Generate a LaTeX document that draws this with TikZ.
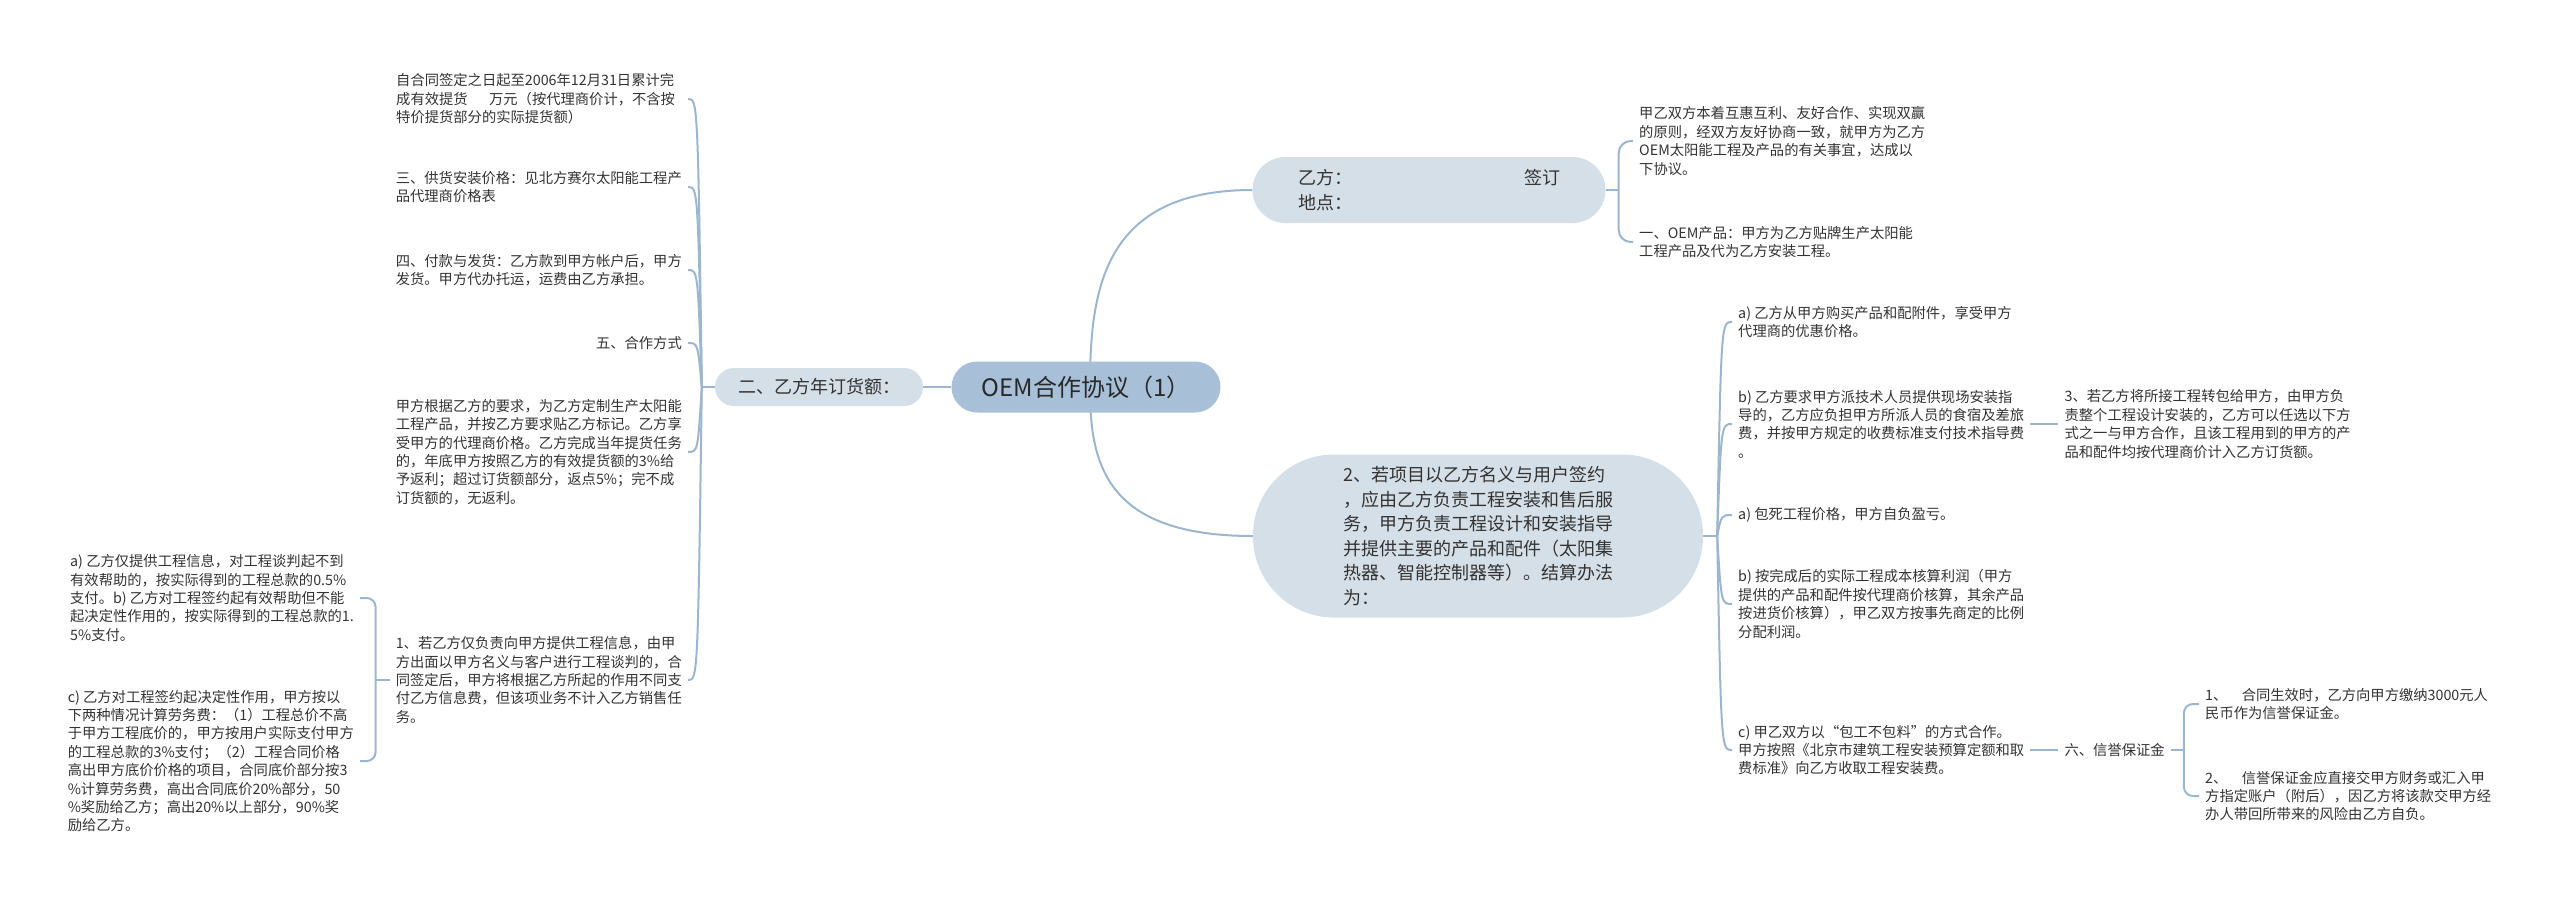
\documentclass[tikz,border=0pt]{standalone}
\usepackage{fontspec}
\setmainfont{Noto Sans CJK SC}
\usetikzlibrary{positioning}
\definecolor{rootfill}{HTML}{A7C0D8}
\definecolor{topicfill}{HTML}{D4DFE8}
\definecolor{linkblue}{HTML}{9DB6CF}
\definecolor{ink}{HTML}{333333}
\pgfdeclarelayer{background}
\pgfsetlayers{background,main}

\begin{document}
\begin{tikzpicture}[x=1pt, y=-1pt,
    root/.style={fill=rootfill, text=ink!80!black, rounded corners=25.5pt, minimum width=269pt, minimum height=51pt, font=\fontsize{24}{30}\selectfont},
    topic/.style={fill=topicfill, text=ink, align=left, font=\fontsize{18}{24.5}\selectfont},
    leaf/.style={text=ink, align=left, inner sep=6pt, font=\fontsize{14.3}{18.4}\selectfont},
    link/.style={draw=linkblue, line width=2pt}]
    \useasboundingbox (0,0) rectangle (2560,903);

    % centre and main topics
    \node (root) [root] at (1086,387) {OEM合作协议（1）};
    \node (order) [topic, rounded corners=19pt, minimum width=208pt, minimum height=38pt] at (819,387) {二、乙方年订货额：};
    \node (partyb) [topic, rounded corners=33pt, minimum width=353pt, minimum height=66pt, text width=262pt] at (1429,190) {乙方：\hfill 签订\\地点：};
    \node (settle) [topic, rounded corners=81pt, minimum width=450pt, minimum height=163pt] at (1478,536) {2、若项目以乙方名义与用户签约\\，应由乙方负责工程安装和售后服\\务，甲方负责工程设计和安装指导\\并提供主要的产品和配件（太阳集\\热器、智能控制器等）。结算办法\\为：};

    % left side
    \node (delivery) [leaf, anchor=west] at (390,99) {自合同签定之日起至2006年12月31日累计完\\成有效提货\hspace{1.5em}万元（按代理商价计，不含按\\特价提货部分的实际提货额）};
    \node (price) [leaf, anchor=east] at (688,187) {三、供货安装价格：见北方赛尔太阳能工程产\\品代理商价格表};
    \node (payment) [leaf, anchor=east] at (688,270) {四、付款与发货：乙方款到甲方帐户后，甲方\\发货。甲方代办托运，运费由乙方承担。};
    \node (coop) [leaf, anchor=east] at (688,343) {五、合作方式};
    \node (custom) [leaf, anchor=east] at (688,452) {甲方根据乙方的要求，为乙方定制生产太阳能\\工程产品，并按乙方要求贴乙方标记。乙方享\\受甲方的代理商价格。乙方完成当年提货任务\\的，年底甲方按照乙方的有效提货额的3\%给\\予返利；超过订货额部分，返点5\%；完不成\\订货额的，无返利。};
    \node (info) [leaf, anchor=east] at (688,680) {1、若乙方仅负责向甲方提供工程信息，由甲\\方出面以甲方名义与客户进行工程谈判的，合\\同签定后，甲方将根据乙方所起的作用不同支\\付乙方信息费，但该项业务不计入乙方销售任\\务。};
    \node (infoab) [leaf, anchor=east] at (360,598) {a) 乙方仅提供工程信息，对工程谈判起不到\\有效帮助的，按实际得到的工程总款的0.5\%\\支付。b) 乙方对工程签约起有效帮助但不能\\起决定性作用的，按实际得到的工程总款的1.\\5\%支付。};
    \node (infoc) [leaf, anchor=east] at (360,761) {c) 乙方对工程签约起决定性作用，甲方按以\\下两种情况计算劳务费：（1）工程总价不高\\于甲方工程底价的，甲方按用户实际支付甲方\\的工程总款的3\%支付；（2）工程合同价格\\高出甲方底价价格的项目，合同底价部分按3\\\%计算劳务费，高出合同底价20\%部分，50\\\%奖励给乙方；高出20\%以上部分，90\%奖\\励给乙方。};

    % right side
    \node (intro) [leaf, anchor=west] at (1633,141) {甲乙双方本着互惠互利、友好合作、实现双赢\\的原则，经双方友好协商一致，就甲方为乙方\\OEM太阳能工程及产品的有关事宜，达成以\\下协议。};
    \node (oem) [leaf, anchor=west] at (1633,242) {一、OEM产品：甲方为乙方贴牌生产太阳能\\工程产品及代为乙方安装工程。};
    \node (buy) [leaf, anchor=west] at (1732,322) {a) 乙方从甲方购买产品和配附件，享受甲方\\代理商的优惠价格。};
    \node (guide) [leaf, anchor=west] at (1732,424) {b) 乙方要求甲方派技术人员提供现场安装指\\导的，乙方应负担甲方所派人员的食宿及差旅\\费，并按甲方规定的收费标准支付技术指导费\\。};
    \node (subcontract) [leaf, right=28pt of guide] {3、若乙方将所接工程转包给甲方，由甲方负\\责整个工程设计安装的，乙方可以任选以下方\\式之一与甲方合作，且该工程用到的甲方的产\\品和配件均按代理商价计入乙方订货额。};
    \node (fixed) [leaf, anchor=west] at (1732,515) {a) 包死工程价格，甲方自负盈亏。};
    \node (profit) [leaf, anchor=west] at (1732,604) {b) 按完成后的实际工程成本核算利润（甲方\\提供的产品和配件按代理商价核算，其余产品\\按进货价核算），甲乙双方按事先商定的比例\\分配利润。};
    \node (labour) [leaf, anchor=west] at (1732,750) {c) 甲乙双方以“包工不包料”的方式合作。\\甲方按照《北京市建筑工程安装预算定额和取\\费标准》向乙方收取工程安装费。};
    \node (deposit) [leaf, right=28pt of labour] {六、信誉保证金};
    \node (deposit1) [leaf, anchor=west] at (2199,704) {1、　合同生效时，乙方向甲方缴纳3000元人\\民币作为信誉保证金。};
    \node (deposit2) [leaf, anchor=west] at (2199,796) {2、　信誉保证金应直接交甲方财务或汇入甲\\方指定账户（附后），因乙方将该款交甲方经\\办人带回所带来的风险由乙方自负。};

    % junctions
    \coordinate (jl) at ([xshift=-13pt]order.west);
    \coordinate (jlc) at ([xshift=-4pt]jl);
    \coordinate (jr) at ([xshift=14pt]settle.east);
    \coordinate (jrc) at ([xshift=4pt]jr);
    \coordinate (jp) at ([xshift=13pt]partyb.east);
    \coordinate (jb) at ([xshift=-14pt]info.west);
    \coordinate (jd) at ([xshift=13pt]deposit.east);

    \begin{pgfonlayer}{background}
    \draw[link] ([xshift=4pt]root.center) .. controls +(0,-96) and +(-150,0) .. (partyb.west);
    \draw[link] ([xshift=4pt]root.center) .. controls +(0,74) and +(-150,0) .. (settle.west);
    \draw[link] (root.west) -- (order.east);

    \draw[link] (order.west) -- (jl);
    \foreach \n in {price,payment,coop,custom,info}
        \draw[link] (jl) .. controls (jlc |- \n.east) .. (\n.east);
    \draw[link] (jl) .. controls (jlc |- delivery.east) .. (688,99);
    \draw[link] (info.west) -- (jb);
    \foreach \n in {infoab,infoc}
        \draw[link, rounded corners=9pt] (jb) |- (\n.east);

    \draw[link] (partyb.east) -- (jp);
    \foreach \n in {intro,oem}
        \draw[link, rounded corners=12pt] (jp) |- (\n.west);

    \draw[link] (settle.east) -- (jr);
    \foreach \n in {buy,guide,fixed,profit,labour}
        \draw[link] (jr) .. controls (jrc |- \n.west) .. (\n.west);
    \draw[link] (guide.east) -- (subcontract.west);
    \draw[link] (labour.east) -- (deposit.west);
    \draw[link] (deposit.east) -- (jd);
    \foreach \n in {deposit1,deposit2}
        \draw[link, rounded corners=9pt] (jd) |- (\n.west);
    \end{pgfonlayer}
\end{tikzpicture}
\end{document}
